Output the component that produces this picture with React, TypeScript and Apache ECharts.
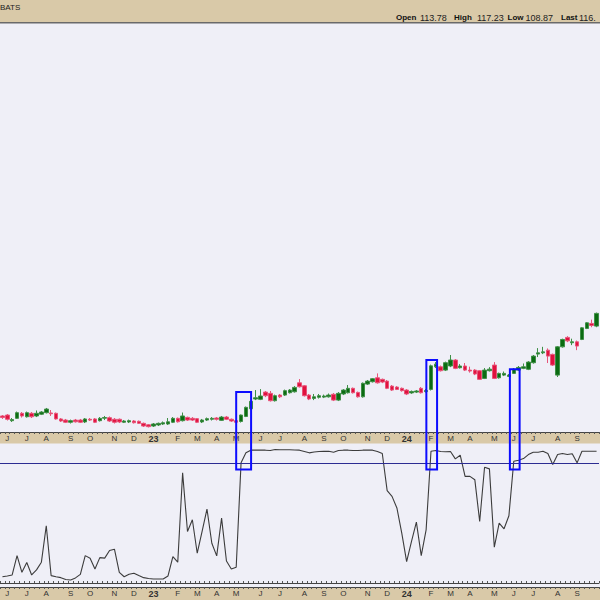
import React, { useEffect, useRef } from "react";
import * as echarts from "echarts";

const FONT = "'Liberation Sans', Arial, sans-serif";
const FIRST_WEEK_UTC = Date.UTC(2022, 4, 23);
const WEEK_COUNT = 123;
const DAY = 86400000;
const monthInitials = ["J", "F", "M", "A", "M", "J", "J", "A", "S", "O", "N", "D"];

const opens = [
  50.2, 50.8, 47.2, 48.7, 51.9, 49.7, 51.9, 50.2, 51.3, 52.3,
  52.1, 51.9, 48.3, 47.6, 46.2, 47.6, 47.6, 46.4, 48.1, 48.3,
  47.2, 48.8, 49.1, 48.1, 48.1, 46.2, 46.4, 47.0, 46.8, 45.5,
  44.6, 43.8, 44.5, 45.1, 45.1, 46.2, 48.7, 47.2, 49.3, 48.7,
  48.5, 46.4, 47.6, 48.1, 48.9, 47.4, 49.5, 48.1, 47.2, 46.7,
  49.9, 54.8, 61.0, 60.8, 65.4, 64.6, 59.9, 63.5, 63.5, 65.0,
  65.6, 71.3, 69.4, 63.5, 61.4, 62.1, 62.2, 62.4, 64.0, 60.3,
  64.2, 65.0, 67.8, 65.2, 62.4, 70.5, 72.0, 74.5, 73.5, 72.4,
  69.2, 68.6, 67.8, 66.7, 64.9, 65.4, 67.8, 65.7, 67.1, 81.5,
  81.5, 79.4, 82.0, 85.8, 80.9, 82.0, 79.4, 79.4, 79.0, 74.1,
  79.0, 82.6, 74.5, 76.2, 75.4, 77.3, 79.4, 80.5, 79.9, 84.1,
  89.6, 90.4, 92.1, 89.4, 76.2, 94.2, 100.2, 96.8, 97.4, 98.9,
  105.9, 109.1, 107.4,
];
const closes = [
  49.2, 48.1, 47.9, 52.3, 50.2, 52.3, 49.7, 51.9, 52.7, 54.6,
  51.6, 48.3, 47.0, 46.2, 47.2, 46.5, 46.2, 48.3, 47.6, 46.2,
  48.7, 49.2, 47.0, 46.2, 46.4, 47.0, 47.2, 45.9, 45.5, 43.8,
  43.4, 45.1, 45.5, 45.9, 46.5, 48.7, 46.5, 50.2, 47.6, 47.6,
  46.2, 47.6, 48.5, 48.7, 48.1, 49.5, 48.1, 47.0, 46.2, 50.8,
  55.7, 59.5, 61.8, 62.9, 63.1, 59.9, 63.1, 62.4, 66.3, 66.7,
  68.4, 68.8, 63.1, 61.0, 62.4, 63.1, 62.9, 63.5, 60.3, 64.6,
  66.7, 67.8, 65.0, 62.4, 71.0, 72.4, 73.9, 71.3, 71.8, 67.8,
  66.7, 67.1, 66.3, 64.2, 65.8, 66.1, 65.0, 66.4, 82.1, 83.2,
  79.0, 84.1, 85.8, 80.5, 82.0, 79.4, 78.8, 76.9, 73.5, 79.4,
  80.0, 74.1, 77.3, 77.3, 76.2, 80.0, 81.1, 81.5, 84.5, 88.3,
  90.4, 91.0, 88.3, 82.6, 94.2, 98.9, 98.0, 97.4, 94.7, 106.3,
  109.5, 107.8, 115.5,
];
const lows = [
  48.3, 47.3, 46.4, 48.3, 49.2, 49.2, 48.9, 49.5, 50.8, 51.8,
  50.2, 47.9, 46.4, 45.7, 45.4, 46.0, 45.7, 45.7, 47.0, 45.7,
  46.7, 47.6, 46.4, 45.4, 45.7, 45.7, 45.7, 45.4, 45.1, 43.2,
  42.9, 43.2, 43.8, 44.5, 44.5, 45.7, 46.0, 46.7, 47.0, 47.0,
  45.7, 45.7, 47.0, 47.3, 47.3, 47.0, 47.6, 46.4, 45.7, 46.0,
  49.5, 54.3, 60.3, 60.3, 62.2, 59.4, 59.4, 61.6, 62.9, 64.5,
  65.1, 68.3, 62.6, 60.3, 60.3, 61.3, 61.6, 61.9, 59.7, 59.7,
  63.5, 64.5, 64.5, 61.9, 61.9, 69.9, 71.5, 70.8, 71.1, 67.3,
  66.1, 66.7, 65.7, 63.5, 64.3, 64.8, 64.5, 65.1, 66.4, 80.7,
  78.5, 78.8, 81.3, 80.0, 80.4, 78.8, 77.8, 76.2, 73.1, 73.7,
  78.5, 73.7, 74.0, 75.6, 75.0, 76.9, 78.8, 80.0, 79.4, 83.5,
  87.7, 89.6, 83.9, 82.0, 75.0, 93.7, 97.2, 95.3, 92.1, 98.5,
  105.5, 106.7, 106.7,
];
const highs = [
  50.8, 51.4, 48.9, 53.0, 52.7, 53.0, 52.7, 53.7, 53.3, 55.3,
  54.0, 52.4, 48.9, 48.3, 47.9, 48.3, 48.3, 48.9, 48.9, 48.9,
  49.5, 50.2, 49.9, 48.9, 48.6, 47.6, 47.9, 47.6, 47.3, 46.0,
  45.1, 45.7, 46.0, 46.7, 48.9, 49.5, 49.2, 52.4, 49.8, 49.5,
  48.9, 48.3, 49.2, 49.5, 49.5, 50.2, 50.2, 48.6, 47.6, 51.1,
  56.2, 60.0, 66.7, 67.3, 66.1, 66.1, 63.8, 64.2, 67.0, 67.3,
  69.2, 73.7, 69.9, 64.2, 64.2, 64.2, 63.8, 64.5, 64.8, 65.4,
  67.3, 69.9, 68.3, 65.7, 71.5, 73.1, 74.3, 77.3, 74.0, 73.1,
  69.9, 69.2, 68.3, 67.3, 66.4, 66.7, 68.6, 67.3, 82.9, 84.5,
  82.3, 84.8, 89.0, 86.4, 83.2, 83.9, 81.6, 80.0, 79.4, 80.7,
  81.3, 84.5, 77.8, 78.5, 76.9, 80.7, 82.0, 83.6, 85.1, 89.0,
  93.4, 94.2, 93.2, 89.9, 94.7, 99.4, 101.0, 99.4, 98.2, 106.7,
  109.9, 111.5, 116.0,
];

const indicator = [
  4.7, 5.3, 6.0, 20.5, 8.0, 15.3, 6.0, 9.8, 15.6, 42.9,
  5.5, 4.7, 4.0, 2.6, 2.3, 3.8, 6.5, 20.5, 18.6, 10.5,
  19.0, 18.6, 24.3, 25.3, 8.0, 4.7, 6.5, 7.3, 5.6, 4.0,
  3.4, 3.0, 3.0, 3.0, 5.3, 19.8, 15.6, 82.5, 38.6, 47.4,
  22.3, 38.6, 55.4, 29.8, 20.3, 48.6, 16.5, 10.5, 11.8, 90.0,
  97.5, 99.5, 99.5, 99.5, 99.5, 99.2, 100, 99.8, 99.8, 99.8,
  99.6, 99.5, 98.5, 97.5, 98.1, 98.5, 98.6, 98.7, 98.0, 99.2,
  99.5, 99.5, 99.2, 99.2, 99.5, 99.5, 99.5, 98.5, 97.0, 69.2,
  64.9, 56.2, 37.4, 16.0, 31.1, 45.6, 20.5, 39.8, 98.7, 99.2,
  98.5, 98.3, 98.5, 93.0, 95.7, 79.9, 79.9, 77.4, 46.1, 86.7,
  85.5, 26.8, 44.9, 40.6, 50.4, 91.2, 92.0, 93.2, 96.2, 98.0,
  98.0, 98.7, 97.0, 88.7, 96.2, 97.0, 96.2, 96.8, 90.0, 98.7,
  98.7, 98.7, 98.7,
];
const thresholdLevel = 90;

// Highlight boxes: week-index span, top price, bottom indicator value
const highlightBoxes = [
  { from: 48.0, to: 51.06, top: 65.4, bottom: 85 },
  { from: 87.05, to: 89.25, top: 85.8, bottom: 85 },
  { from: 104.2, to: 106.2, top: 80.0, bottom: 85 },
];

const headerTitle = "BATS";
const headerQuote = [
  { label: "Open", value: "113.78" },
  { label: "High", value: "117.23" },
  { label: "Low", value: "108.87" },
  { label: "Last", value: "116." },
];

const weeks = Array.from({ length: WEEK_COUNT }, (_, i) =>
  new Date(FIRST_WEEK_UTC + i * 7 * DAY).toISOString().slice(0, 10)
);
const weekLabels = weeks.map((_, i) => {
  const a = new Date(FIRST_WEEK_UTC + i * 7 * DAY);
  const b = new Date(FIRST_WEEK_UTC + (i + 1) * 7 * DAY);
  if (a.getUTCMonth() === b.getUTCMonth()) return "";
  const m = b.getUTCMonth();
  return m === 0 ? String(b.getUTCFullYear()).slice(2) : monthInitials[m];
});

const TAN = "#d9c9a8";
const LAVENDER = "#efeff7";

export default function App() {
  const ref = useRef<HTMLDivElement>(null);
  useEffect(() => {
    if (!ref.current) return;
    const chart = echarts.init(ref.current, undefined, { renderer: "svg" });
    const candles = opens.map((o, i) => [o, closes[i], lows[i], highs[i]]);

    const monthLabel = (show: boolean) => ({
      show,
      interval: (i: number) => weekLabels[i] !== "",
      formatter: (_v: string, i: number) =>
        weekLabels[i].length === 2 ? `{y|${weekLabels[i]}}` : weekLabels[i],
      margin: 2,
      fontSize: 8,
      color: "#333",
      fontFamily: FONT,
      rich: { y: { fontWeight: "bold", fontSize: 9, color: "#333", fontFamily: FONT } },
    });
    const axisBase = (gridIndex: number, position: string, labels: boolean) => ({
      type: "category",
      gridIndex,
      position,
      data: weeks,
      axisLine: { show: true, lineStyle: { color: "#444", width: 1 } },
      axisTick: { show: true, interval: 0, length: 2, lineStyle: { color: "#555", width: 1 } },
      axisLabel: monthLabel(labels),
      splitLine: { show: false },
    });

    const quoteEls: any[] = [];
    const qx = [396, 454, 507.5, 561];
    const vx = [420, 477, 525.5, 579];
    headerQuote.forEach((q, k) => {
      quoteEls.push({
        type: "text", x: qx[k], y: 17.5,
        style: { text: q.label, font: `bold 8px ${FONT}`, fill: "#111", textVerticalAlign: "middle" },
      });
      quoteEls.push({
        type: "text", x: vx[k], y: 17.5,
        style: { text: q.value, font: `9px ${FONT}`, fill: "#222", textVerticalAlign: "middle" },
      });
    });

    const baseGraphics: any[] = [
      { type: "rect", z: -1, shape: { x: 0, y: 0, width: 600, height: 22 }, style: { fill: TAN } },
      { type: "rect", z: -1, shape: { x: 0, y: 22, width: 600, height: 1.5 }, style: { fill: "#6a6a6a" } },
      { type: "rect", z: -1, shape: { x: 0, y: 432, width: 600, height: 11.5 }, style: { fill: TAN } },
      { type: "rect", z: -1, shape: { x: 0, y: 587, width: 600, height: 13 }, style: { fill: TAN } },
      {
        type: "text", x: 0, y: 7.5,
        style: { text: headerTitle, font: `8px ${FONT}`, fill: "#222", textVerticalAlign: "middle" },
      },
      ...quoteEls,
    ];

    const option: any = {
      animation: false,
      backgroundColor: LAVENDER,
      grid: [
        { left: 0, right: 1, top: 23.5, height: 408.5 },
        { left: 0, right: 1, top: 443.5, height: 143.5 },
      ],
      xAxis: [
        axisBase(0, "bottom", true),
        axisBase(1, "top", false),
        axisBase(1, "bottom", true),
      ],
      yAxis: [
        { type: "value", gridIndex: 0, min: 40, max: 300, show: false, splitLine: { show: false } },
        { type: "value", gridIndex: 1, min: -3, max: 104.5, show: false, splitLine: { show: false } },
      ],
      series: [
        {
          type: "candlestick",
          xAxisIndex: 0,
          yAxisIndex: 0,
          data: candles,
          barWidth: 4,
          itemStyle: {
            color: "#0b6b12",
            color0: "#e0123e",
            borderColor: "#3f8f46",
            borderColor0: "#e85479",
            borderWidth: 1,
          },
        },
        {
          type: "line",
          xAxisIndex: 2,
          yAxisIndex: 1,
          data: indicator,
          symbol: "none",
          lineStyle: { color: "#3c3c3c", width: 1.1 },
          markLine: {
            silent: true,
            symbol: "none",
            label: { show: false },
            lineStyle: { color: "#2c2c92", width: 1, type: "solid" },
            data: [{ yAxis: thresholdLevel }],
          },
        },
      ],
      graphic: { elements: baseGraphics },
    };
    chart.setOption(option);

    const x0 = chart.convertToPixel({ xAxisIndex: 0 }, weeks[0]) as number;
    const x1 = chart.convertToPixel({ xAxisIndex: 0 }, weeks[1]) as number;
    const step = x1 - x0;
    const boxEls = highlightBoxes.map((b) => {
      const left = x0 + b.from * step;
      const right = x0 + b.to * step;
      const top = chart.convertToPixel({ yAxisIndex: 0 }, b.top) as number;
      const bottom = chart.convertToPixel({ yAxisIndex: 1 }, b.bottom) as number;
      return {
        type: "rect",
        z: 100,
        shape: { x: left, y: top, width: right - left, height: bottom - top },
        style: { fill: "none", stroke: "#0c0cff", lineWidth: 2 },
      };
    });
    chart.setOption({ graphic: { elements: [...baseGraphics, ...boxEls] } });

    return () => chart.dispose();
  }, []);

  return (
    <div
      ref={ref}
      style={{ position: "absolute", left: 0, top: 0, width: 600, height: 600 }}
    />
  );
}
